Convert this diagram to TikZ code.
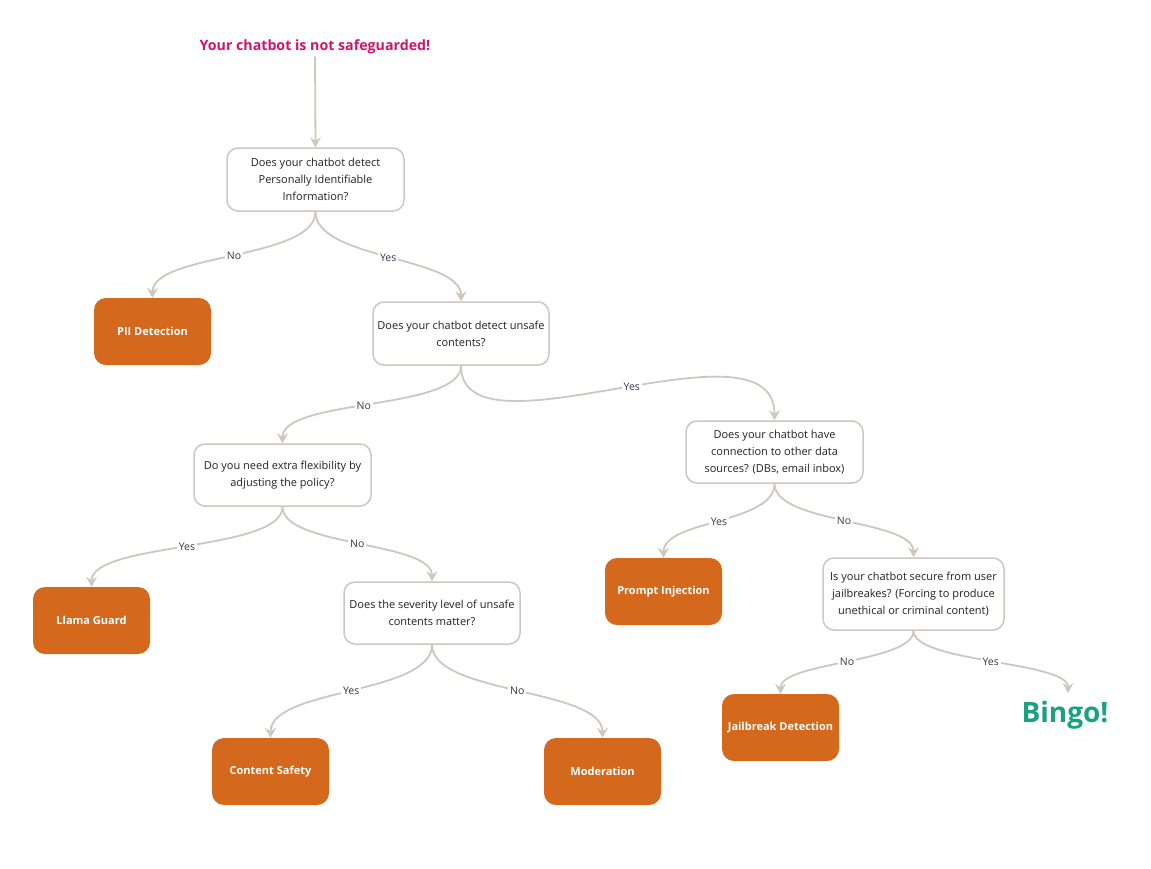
\documentclass[tikz,border=0pt]{standalone}
\usepackage{fontspec}
\setmainfont{Open Sans}
\usetikzlibrary{arrows.meta}
\definecolor{edgec}{HTML}{CFC7BD}
\definecolor{orng}{HTML}{D4691E}
\definecolor{magent}{HTML}{D1136C}
\definecolor{bingoc}{HTML}{1BA083}
\definecolor{lblc}{HTML}{2F3B4A}
\definecolor{txtc}{HTML}{222222}
\begin{document}
\begin{tikzpicture}[x=1pt,y=-1pt,
  qbox/.style n args={2}{draw=edgec, line width=1.5pt, rounded corners=11pt, fill=white,
    text=txtc, font=\fontsize{11}{17}\selectfont, align=center, inner sep=0pt,
    minimum width=#1, minimum height=#2},
  obox/.style={fill=orng, rounded corners=12pt, text=white,
    font=\fontsize{11}{13}\selectfont\bfseries, align=center, inner sep=0pt,
    minimum width=117pt, minimum height=67pt},
  edge/.style={draw=edgec, line width=1.8pt,
    -{Stealth[length=10pt,width=11pt,inset=3.5pt]}},
  lbl/.style={fill=white, text=lblc, font=\fontsize{10.5}{12}\selectfont, inner sep=2pt}
]
\useasboundingbox[fill=white] (0,0) rectangle (1151,868);

\node[text=magent, font=\fontsize{14.2}{16}\selectfont\bfseries, inner sep=2pt] (title) at (315,47) {Your chatbot is not safeguarded!};

\node[qbox={177pt}{63pt}] (q1) at (315.5,179.5) {Does your chatbot detect\\Personally Identifiable\\Information?};
\node[obox] (pii) at (152.5,331.5) {PII Detection};
\node[qbox={176pt}{63pt}] (q2) at (461,333.5) {Does your chatbot detect unsafe\\contents?};
\node[qbox={177pt}{62pt}] (q3) at (282.5,475) {Do you need extra flexibility by\\adjusting the policy?};
\node[obox] (llama) at (91.5,620.5) {Llama Guard};
\node[qbox={176pt}{62pt}] (q5) at (432,613) {Does the severity level of unsafe\\contents matter?};
\node[obox] (cs) at (270.5,771.5) {Content Safety};
\node[obox] (mod) at (602.5,771.5) {Moderation};
\node[qbox={177pt}{62pt}] (q4) at (774.5,452) {Does your chatbot have\\connection to other data\\sources? (DBs, email inbox)};
\node[obox] (pi) at (663.5,591.5) {Prompt Injection};
\node[qbox={181pt}{72pt}] (q6) at (913.5,594) {Is your chatbot secure from user\\jailbreakes? (Forcing to produce\\unethical or criminal content)};
\node[obox] (jb) at (780.5,727.5) {Jailbreak Detection};
\node[text=bingoc, font=\fontsize{28}{30}\selectfont\bfseries, inner sep=0pt] (bingo) at (1065,715) {Bingo!};
\coordinate (bingotop) at (1068,693);

\draw[edge] (title.south) -- (q1.north);
\draw[edge] (q1.south) .. controls +(0,48) and +(0,-45) .. (pii.north) node[lbl,pos=0.5] {No};
\draw[edge] (q1.south) .. controls +(0,48) and +(0,-45) .. (q2.north) node[lbl,pos=0.5] {Yes};
\draw[edge] (q2.south) .. controls +(0,45) and +(0,-45) .. (q3.north) node[lbl,pos=0.53] {No};
\draw[edge] (q2.south) .. controls +(0,100) and +(0,-110) .. (q4.north) node[lbl,pos=0.53] {Yes};
\draw[edge] (q3.south) .. controls +(0,45) and +(0,-45) .. (llama.north) node[lbl,pos=0.5] {Yes};
\draw[edge] (q3.south) .. controls +(0,40) and +(0,-40) .. (q5.north) node[lbl,pos=0.5] {No};
\draw[edge] (q5.south) .. controls +(0,50) and +(0,-50) .. (cs.north) node[lbl,pos=0.5] {Yes};
\draw[edge] (q5.south) .. controls +(0,50) and +(0,-50) .. (mod.north) node[lbl,pos=0.5] {No};
\draw[edge] (q4.south) .. controls +(0,40) and +(0,-38) .. (pi.north) node[lbl,pos=0.5] {Yes};
\draw[edge] (q4.south) .. controls +(0,40) and +(0,-38) .. (q6.north) node[lbl,pos=0.5] {No};
\draw[edge] (q6.south) .. controls +(0,32) and +(0,-32) .. (jb.north) node[lbl,pos=0.5] {No};
\draw[edge] (q6.south) .. controls +(0,32) and +(0,-32) .. (bingotop) node[lbl,pos=0.5] {Yes};
\end{tikzpicture}
\end{document}
